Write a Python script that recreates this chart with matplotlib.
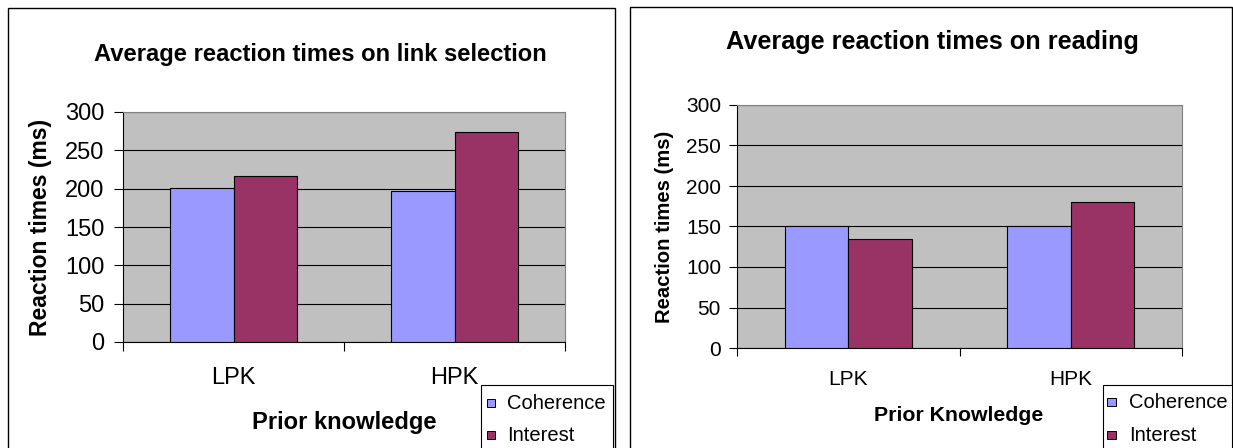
import matplotlib
matplotlib.use("Agg")
import matplotlib.pyplot as plt
from matplotlib.patches import Rectangle
import numpy as np

plt.rcParams['font.family'] = ['Liberation Sans', 'DejaVu Sans']

categories = ["LPK", "HPK"]
series_names = ["Coherence", "Interest"]
link_coherence = [201, 197]
link_interest = [216, 274]
read_coherence = [150, 150]
read_interest = [134, 180]
yticks = [0, 50, 100, 150, 200, 250, 300]
colors = ["#9999FF", "#993366"]

W, H = 1233, 448
fig = plt.figure(figsize=(W / 100, H / 100), dpi=100)
renderer = fig.canvas.get_renderer()


def fx(x):
    return x / W


def fy(y):
    return 1 - y / H


def fit_text(x, y, s, target_w, weight="normal", rotation=0, base=14):
    t = fig.text(fx(x), fy(y), s, ha="center", va="center", fontsize=base,
                 fontweight=weight, rotation=rotation)
    bb = t.get_window_extent(renderer)
    cur = bb.height if rotation == 90 else bb.width
    t.set_fontsize(base * target_w / cur)
    return t


def panel(rect_px, axbox, vals_c, vals_i, tick_fs, tick_pad, ytick_pad, tick_len,
          title, title_xy, title_w, ylab_xy, ylab_w, xlab, xlab_xy, xlab_w,
          leg_box, leg_sq_x, leg_text_x, leg_ys, leg_fs):
    # panel border
    x0, y0, x1, y1 = rect_px
    fig.add_artist(Rectangle((fx(x0), fy(y1)), fx(x1) - fx(x0), fy(y0) - fy(y1),
                             transform=fig.transFigure, fill=False,
                             edgecolor="black", lw=1.0))
    l, t, r, b = axbox
    ax = fig.add_axes([fx(l), fy(b), fx(r) - fx(l), fy(t) - fy(b)])
    ax.set_facecolor("#C0C0C0")
    ax.set_xlim(0, 2)
    ax.set_ylim(0, 300)
    ax.set_axisbelow(True)
    ax.yaxis.grid(True, color="black", lw=0.8)
    x = np.arange(len(categories)) + 0.5
    bw = 1 / 3.5
    ax.bar(x - bw / 2, vals_c, bw, color=colors[0], edgecolor="black", lw=0.8, zorder=3)
    ax.bar(x + bw / 2, vals_i, bw, color=colors[1], edgecolor="black", lw=0.8, zorder=3)
    for s in ["top", "right"]:
        ax.spines[s].set_color("#808080")
        ax.spines[s].set_linewidth(0.8)
    for s in ["left", "bottom"]:
        ax.spines[s].set_color("black")
        ax.spines[s].set_linewidth(0.8)
    ax.set_yticks(yticks)
    ax.set_yticklabels([str(v) for v in yticks], fontsize=tick_fs)
    ax.tick_params(axis="y", length=tick_len, width=0.8, pad=ytick_pad, direction="out")
    ax.set_xticks([0, 1, 2])
    ax.set_xticklabels([])
    ax.tick_params(axis="x", which="major", length=tick_len, width=0.8, direction="out")
    ax.set_xticks(x, minor=True)
    ax.set_xticklabels(categories, minor=True, fontsize=tick_fs)
    ax.tick_params(axis="x", which="minor", length=0, pad=tick_pad)

    fit_text(title_xy[0], title_xy[1], title, title_w, weight="bold")
    fit_text(ylab_xy[0], ylab_xy[1], "Reaction times (ms)", ylab_w, weight="bold", rotation=90)
    fit_text(xlab_xy[0], xlab_xy[1], xlab, xlab_w, weight="bold")

    # legend
    lx0, ly0, lx1, ly1 = leg_box
    fig.add_artist(Rectangle((fx(lx0), fy(ly1)), fx(lx1) - fx(lx0), fy(ly0) - fy(ly1),
                             transform=fig.transFigure, facecolor="white",
                             edgecolor="black", lw=0.8, zorder=5))
    sq = 8.5
    for name, c, ly in zip(series_names, colors, leg_ys):
        fig.add_artist(Rectangle((fx(leg_sq_x), fy(ly + sq / 2)), sq / W, sq / H,
                                 transform=fig.transFigure, facecolor=c,
                                 edgecolor="black", lw=0.7, zorder=6))
        fig.text(fx(leg_text_x), fy(ly), name, ha="left", va="center",
                 fontsize=leg_fs, zorder=7)
    return ax


panel((8, 8, 615, 460), (123, 112, 565, 342), link_coherence, link_interest,
      tick_fs=17, tick_pad=18, ytick_pad=7, tick_len=6.5,
      title="Average reaction times on link selection", title_xy=(320, 55), title_w=455,
      ylab_xy=(41, 227), ylab_w=218, xlab="Prior knowledge", xlab_xy=(344, 422), xlab_w=185,
      leg_box=(481, 385, 613, 460), leg_sq_x=487, leg_text_x=507, leg_ys=(403, 435),
      leg_fs=14.5)

panel((630, 7, 1232, 460), (737, 105, 1182, 348), read_coherence, read_interest,
      tick_fs=15, tick_pad=16, ytick_pad=6, tick_len=5.5,
      title="Average reaction times on reading", title_xy=(932, 42), title_w=414,
      ylab_xy=(665, 227), ylab_w=193, xlab="Prior Knowledge", xlab_xy=(959, 415), xlab_w=169,
      leg_box=(1103, 385, 1232, 460), leg_sq_x=1107, leg_text_x=1129, leg_ys=(402, 435),
      leg_fs=14.5)

fig.savefig("out.png", dpi=100)
